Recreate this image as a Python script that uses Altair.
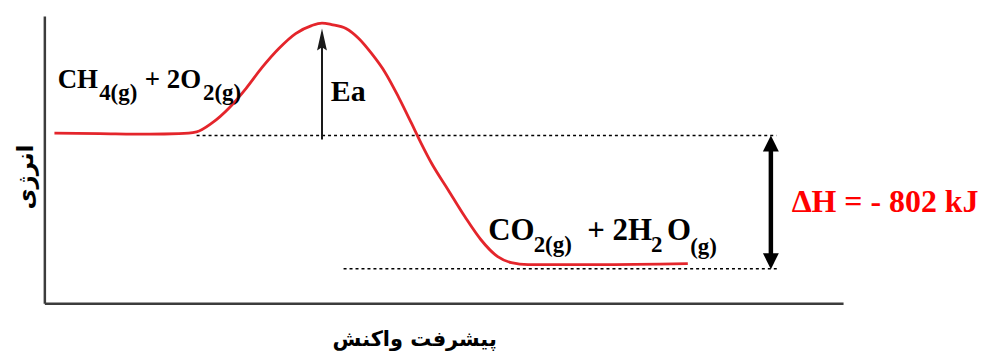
import altair as alt
import pandas as pd

# ---- data (reaction progress 0-100, energy in kJ relative to reactants) ----
curve_progress = [1.2, 6.9, 13.1, 16.8, 19.0, 20.9, 23.1, 25.2, 27.2, 29.3, 31.4,
                  33.4, 34.7, 35.9, 37.7, 39.3, 40.9, 42.6, 44.3, 45.9, 47.1, 48.4,
                  50.5, 52.6, 54.6, 56.7, 58.4, 60.5, 69.2, 80.5]
curve_energy = [14, 11, 8, 11, 22, 74, 167, 284, 410, 524, 614,
                662, 677, 668, 644, 584, 494, 380, 230, 74, -46, -166,
                -328, -490, -628, -730, -766, -778, -778, -772]

level_names = ["reactants", "products"]
level_energy = [0, -802]
level_start = [19.0, 37.4]
level_end = [91.6, 92.0]

ea_progress = 34.7
ea_from, ea_to = -24, 644
dh_progress = 90.9
dh_top, dh_bottom = 0, -805

axis_bottom, axis_top = -1014, 716

chem_texts = ["CH", "4(g)", "+ 2O", "2(g)", "Ea",
              "CO", "2(g)", "+ 2H", "2", "O", "(g)", "ΔH = - 802 kJ"]
chem_progress = [1.6, 6.8, 12.5, 19.8, 35.8,
                 55.5, 61.2, 67.9, 75.9, 77.9, 80.8, 93.5]
chem_energy = [284, 212, 284, 212, 206,
               -628, -700, -628, -700, -628, -712, -460]
chem_size = [27, 23, 27, 23, 30,
             31, 23, 31, 23, 31, 23, 32]
chem_color = ["black"] * 11 + ["#ff0000"]

x_title = "پیشرفت واکنش"
y_title = "انرژی"

# ---- scales ----
xs = alt.Scale(domain=[0, 100], range=[37, 839], nice=False, zero=False)
ys = alt.Scale(domain=[-802, 0], range=[261, 127.3], nice=False, zero=False)


def X(f="p"):
    return alt.X(f + ":Q", scale=xs, axis=None)


def Y(f="e"):
    return alt.Y(f + ":Q", scale=ys, axis=None)


curve_df = pd.DataFrame({"p": curve_progress, "e": curve_energy})
level_df = pd.DataFrame({"name": level_names, "e": level_energy,
                         "p": level_start, "p2": level_end})
axes_df = pd.DataFrame({"p": [0, 0], "p2": [0, 100],
                        "e": [axis_bottom, axis_bottom], "e2": [axis_top, axis_bottom]})
ea_df = pd.DataFrame({"p": [ea_progress], "e": [ea_from], "e2": [ea_to - 100]})
ea_head_df = pd.DataFrame({"p": [ea_progress], "e": [ea_to]})
dh_df = pd.DataFrame({"p": [dh_progress], "e": [dh_top - 80], "e2": [dh_bottom + 80]})
dh_top_df = pd.DataFrame({"p": [dh_progress], "e": [dh_top]})
dh_bot_df = pd.DataFrame({"p": [dh_progress], "e": [dh_bottom]})
chem_df = pd.DataFrame({"t": chem_texts, "p": chem_progress, "e": chem_energy,
                        "s": chem_size, "c": chem_color})
xt_df = pd.DataFrame({"t": [x_title], "p": [46.3], "e": [-1234]})
yt_df = pd.DataFrame({"t": [y_title], "p": [-2.3], "e": [-250]})

axes = alt.Chart(axes_df).mark_rule(color="#3c3c3c", strokeWidth=2.5).encode(
    x=X(), x2="p2:Q", y=Y(), y2="e2:Q")

levels = alt.Chart(level_df).mark_rule(color="black", strokeWidth=1.5,
                                       strokeDash=[3, 3]).encode(
    x=X(), x2="p2:Q", y=Y())

curve = alt.Chart(curve_df).mark_line(color="#e4252b", strokeWidth=2.8,
                                      interpolate="monotone").encode(x=X(), y=Y())

ea_shaft = alt.Chart(ea_df).mark_rule(color="#1a1a1a", strokeWidth=2).encode(
    x=X(), y=Y(), y2="e2:Q")
ea_head = alt.Chart(ea_head_df).mark_point(
    shape="M0,0L0.45,2L0,1.7L-0.45,2Z", size=484, filled=True, opacity=1,
    color="#1a1a1a", strokeWidth=0).encode(x=X(), y=Y())

dh_shaft = alt.Chart(dh_df).mark_rule(color="black", strokeWidth=4.5).encode(
    x=X(), y=Y(), y2="e2:Q")
dh_head_top = alt.Chart(dh_top_df).mark_point(
    shape="M0,0L1,2L-1,2Z", size=256, filled=True, opacity=1,
    color="black", strokeWidth=0).encode(x=X(), y=Y())
dh_head_bot = alt.Chart(dh_bot_df).mark_point(
    shape="M0,0L1,-2L-1,-2Z", size=256, filled=True, opacity=1,
    color="black", strokeWidth=0).encode(x=X(), y=Y())

chem = alt.Chart(chem_df).mark_text(
    font="Liberation Serif", fontWeight="bold", align="left",
    baseline="alphabetic").encode(
    x=X(), y=Y(), text="t:N",
    size=alt.Size("s:Q", scale=None, legend=None),
    color=alt.Color("c:N", scale=None, legend=None))

xt = alt.Chart(xt_df).mark_text(
    font="DejaVu Sans", fontWeight="bold", fontSize=21, align="center",
    baseline="middle", color="black").encode(x=X(), y=Y(), text="t:N")
yt = alt.Chart(yt_df).mark_text(
    font="DejaVu Sans", fontWeight="bold", fontSize=23, align="center",
    baseline="middle", angle=270, color="black").encode(x=X(), y=Y(), text="t:N")

chart = alt.layer(axes, levels, curve, ea_shaft, ea_head, dh_shaft,
                  dh_head_top, dh_head_bot, chem, xt, yt).properties(
    width=975, height=346, padding=0,
    autosize=alt.AutoSizeParams(type="none"),
).configure_view(stroke=None)

chart.save("out.html", embed_options={"renderer": "svg", "actions": False})
